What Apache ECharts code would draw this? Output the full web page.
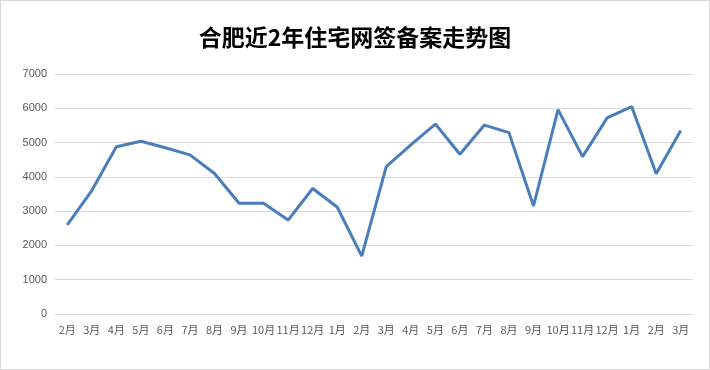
<!DOCTYPE html>
<html><head><meta charset="utf-8">
<script src="https://cdn.jsdelivr.net/npm/echarts@6/dist/echarts.min.js"></script>
<style>html,body{margin:0;padding:0;background:#fff}#c{width:708px;height:368px;border:1px solid #d9d9d9}</style>
</head><body><div id="c"></div>
<script>
const categories = ['2月','3月','4月','5月','6月','7月','8月','9月','10月','11月','12月','1月','2月','3月','4月','5月','6月','7月','8月','9月','10月','11月','12月','1月','2月','3月'];
const values = [2600,3600,4880,5040,4850,4640,4100,3230,3230,2740,3660,3120,1690,4300,4930,5540,4660,5510,5290,3150,5960,4590,5720,6050,4090,5350];
const yTicks = {min:0, max:7000, interval:1000};
const chart = echarts.init(document.getElementById('c'));
chart.setOption({
  animation:false,
  title:{text:'合肥近2年住宅网签备案走势图', left:'center', top:20,
    textStyle:{fontFamily:'Noto Sans CJK SC', fontWeight:'bold', fontSize:23, color:'#000'}},
  grid:{left:54, right:16, top:73, bottom:55},
  xAxis:{type:'category', data:categories, boundaryGap:true,
    axisLine:{show:false}, axisTick:{show:false},
    axisLabel:{color:'#595959', fontSize:11, fontFamily:'Noto Sans CJK SC', interval:0, margin:10}},
  yAxis:{type:'value', min:yTicks.min, max:yTicks.max, interval:yTicks.interval,
    axisLine:{show:false}, axisTick:{show:false},
    axisLabel:{color:'#595959', fontSize:11, margin:8, formatter:v=>String(v)},
    splitLine:{lineStyle:{color:'#d9d9d9', width:1}}},
  series:[{type:'line', data:values, symbol:'none', lineStyle:{color:'#4a7ebb', width:3}}]
});
</script></body></html>
